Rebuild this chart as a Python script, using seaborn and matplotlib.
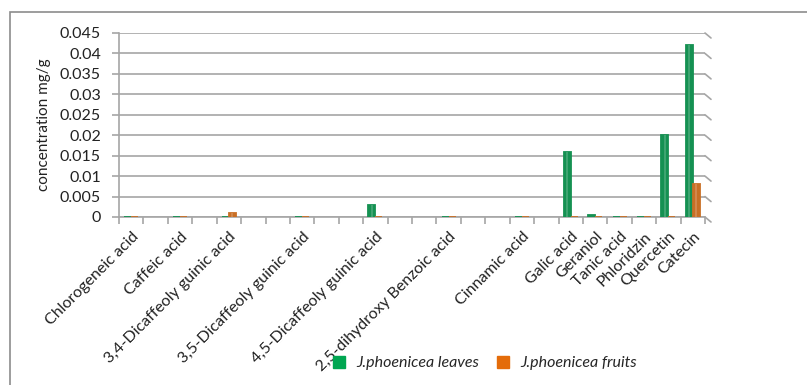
import matplotlib
matplotlib.use("Agg")
import matplotlib.pyplot as plt
import seaborn as sns
import pandas as pd
import numpy as np
from matplotlib.patches import Rectangle
from matplotlib.lines import Line2D

# Category axis; empty strings are unlabeled slots between compounds
axis_slots = [
    "Chlorogeneic acid", "", "Caffeic acid", "", "3,4-Dicaffeoly guinic acid", "", "",
    "3,5-Dicaffeoly guinic acid", "", "", "4,5-Dicaffeoly guinic acid", "", "",
    "2,5-dihydroxy Benzoic acid", "", "", "Cinnamic acid", "", "Galic acid", "Geraniol",
    "Tanic acid", "Phloridzin", "Quercetin", "Catecin",
]
series_names = ["J.phoenicea leaves", "J.phoenicea fruits"]
leaves = [0, 0, 0, 0, 0.003, 0, 0, 0.016, 0.0005, 0, 0, 0.020, 0.042]
fruits = [0, 0, 0.0009, 0, 0, 0, 0, 0, 0, 0, 0, 0, 0.008]
y_ticks = [0, 0.005, 0.01, 0.015, 0.02, 0.025, 0.03, 0.035, 0.04, 0.045]
y_tick_labels = ["0", "0.005", "0.01", "0.015", "0.02", "0.025", "0.03", "0.035", "0.04", "0.045"]

GREEN = "#00a651"
ORANGE = "#e46c0a"
GRID = "#a6a6a6"

positions = [i for i, name in enumerate(axis_slots) if name]
compounds = [name for name in axis_slots if name]

df = pd.DataFrame({
    "compound": compounds * 2,
    "pos": positions * 2,
    "series": [series_names[0]] * len(compounds) + [series_names[1]] * len(compounds),
    "value": leaves + fruits,
})

sns.set_theme(style="white")
plt.rcParams["font.family"] = ["Lato", "DejaVu Sans"]

W, H = 807, 385
fig = plt.figure(figsize=(W / 100, H / 100), dpi=100)
ax = fig.add_axes([119 / W, 1 - 217 / H, (705 - 119) / W, (217 - 33) / H])

sns.barplot(data=df, x="pos", y="value", hue="series", native_scale=True,
            palette=[GREEN, ORANGE], width=0.57, errorbar=None, legend=False,
            linewidth=0, ax=ax, zorder=3)

# solid edge so zero-valued bars still show as a thin floor mark, plus a highlight stripe
for p in list(ax.patches):
    fc = p.get_facecolor()
    p.set_edgecolor(fc)
    p.set_linewidth(1.3)
    x, w, h = p.get_x(), p.get_width(), p.get_height()
    if h > 0.0006:
        ax.add_patch(Rectangle((x + w * 0.35, 0), w * 0.3, h, facecolor="white",
                               alpha=0.18, linewidth=0, zorder=4))

ax.set_xlim(-0.5, len(axis_slots) - 0.5)
ax.set_ylim(0, 0.045)
ax.set_yticks(y_ticks)
ax.set_yticklabels(y_tick_labels, fontsize=11.5, color="#222222")
ax.set_xticks(positions)
ax.set_xticklabels(compounds, rotation=45, ha="right", va="top",
                   rotation_mode="anchor", fontsize=11.5, color="#222222")
ax.set_xticks(np.arange(len(axis_slots) + 1) - 0.5, minor=True)
ax.tick_params(axis="x", which="major", length=0, pad=9)
ax.tick_params(axis="x", which="minor", length=5, width=1.2, color=GRID, bottom=True)
ax.tick_params(axis="y", which="major", length=5, width=1.2, color=GRID, left=True, pad=8)

ax.grid(axis="y", color=GRID, linewidth=1.2, zorder=0)
ax.set_axisbelow(True)
for side in ["top", "right"]:
    ax.spines[side].set_visible(False)
for side in ["left", "bottom"]:
    ax.spines[side].set_color(GRID)
    ax.spines[side].set_linewidth(1.2)

# slanted gridline ends on the right wall
for yv in y_ticks:
    ax.annotate("", xy=(1, yv), xycoords=ax.get_yaxis_transform(),
                xytext=(6, -5), textcoords="offset pixels",
                arrowprops=dict(arrowstyle="-", color=GRID, lw=1.2, shrinkA=0, shrinkB=0))

ax.set_xlabel("")
ax.set_ylabel("concentration mg/g", fontsize=11, color="#222222", labelpad=6)

handles = [Line2D([], [], marker="s", linestyle="", color=c, markersize=8)
           for c in (GREEN, ORANGE)]
fig.legend(handles, series_names, loc="center", bbox_to_anchor=(480 / W, 1 - 363 / H),
           ncol=2, frameon=False, handletextpad=0.1, columnspacing=0.5,
           prop={"style": "italic", "size": 11.5})

fig.patches.append(Rectangle((10 / W, -0.1), 1.2, 1.1 - 12 / H, transform=fig.transFigure,
                             fill=False, edgecolor="#8c8c8c", linewidth=1.2))

fig.savefig("out.png", dpi=100)
